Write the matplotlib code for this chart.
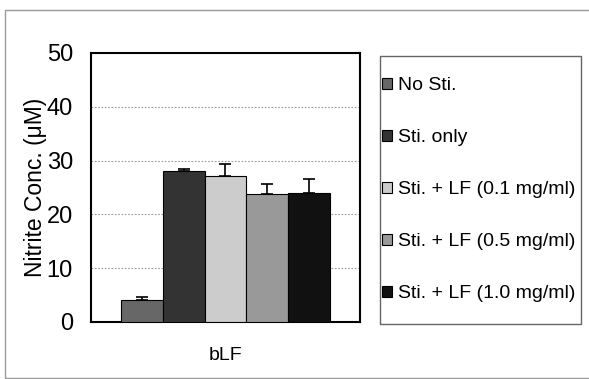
import matplotlib.pyplot as plt
from matplotlib.patches import Patch, Rectangle

# data
group = ["bLF"]
labels = ["No Sti.", "Sti. only", "Sti. + LF (0.1 mg/ml)",
          "Sti. + LF (0.5 mg/ml)", "Sti. + LF (1.0 mg/ml)"]
values = [4.1, 28.1, 27.2, 23.8, 24.0]
errors = [0.5, 0.3, 2.2, 1.9, 2.5]
colors = ["#676767", "#333333", "#cccccc", "#999999", "#111111"]

plt.rcParams["font.family"] = ["Liberation Sans", "DejaVu Sans"]

fig = plt.figure(figsize=(5.89, 3.79), dpi=100)
ax = fig.add_axes([0.1545, 0.1504, 0.4567, 0.7098])

n = len(values)
w = 0.155
for i in range(n):
    x = (i - (n - 1) / 2) * w
    ax.bar(x, values[i], w, color=colors[i], edgecolor="black", linewidth=0.8,
           label=labels[i], zorder=3)
    ax.errorbar(x, values[i], yerr=[[0], [errors[i]]], fmt="none",
                ecolor="black", elinewidth=1.2, capsize=4, capthick=1.2, zorder=4)

ax.set_xlim(-0.5, 0.5)
ax.set_ylim(0, 50)
ax.set_yticks([0, 10, 20, 30, 40, 50])
ax.set_xticks([0])
ax.set_xticklabels(group)
ax.tick_params(axis="x", length=0, pad=18, labelsize=14)
ax.tick_params(axis="y", length=0, pad=13, labelsize=17)
ax.yaxis.grid(True, linestyle=(0, (1.5, 1.5)), color="#999999", linewidth=0.8, zorder=0)
for s in ax.spines.values():
    s.set_linewidth(1.5)
ax.set_ylabel("Nitrite Conc. (\u03bcM)", fontsize=16.5, labelpad=0)

# legend without its own frame, box drawn separately
handles = [Patch(facecolor=colors[i], edgecolor="black", linewidth=0.8) for i in range(n)]
leg = fig.legend(handles, labels, loc="center left",
                 bbox_to_anchor=(382 / 589, 1 - 190 / 379), fontsize=14,
                 handlelength=0.5, handleheight=0.5, handletextpad=0.3,
                 labelspacing=1.8, borderpad=0.0, borderaxespad=0.0,
                 frameon=False)
fig.patches.append(Rectangle((380 / 589, 1 - 324 / 379), 201 / 589, 268 / 379,
                             transform=fig.transFigure, fill=False,
                             edgecolor="#666666", linewidth=1.0))

# outer border of the figure
fig.patches.append(Rectangle((5 / 589, 1 - 378 / 379), 1.1, 368 / 379,
                             transform=fig.transFigure, fill=False,
                             edgecolor="#999999", linewidth=1.0))

fig.savefig("out.png", dpi=100)
